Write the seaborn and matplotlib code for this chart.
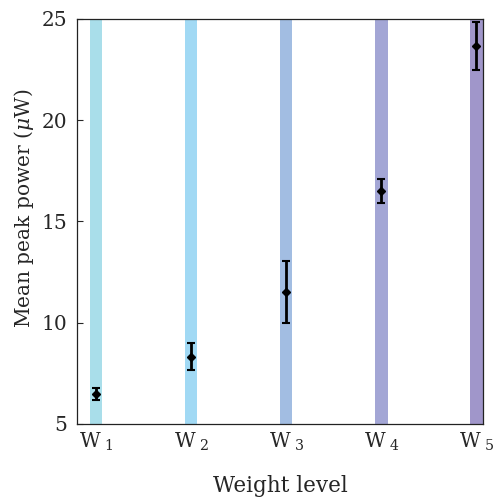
import matplotlib
matplotlib.use("Agg")
import matplotlib.pyplot as plt
import seaborn as sns
import pandas as pd

# Data
levels = ["W1", "W2", "W3", "W4", "W5"]
tick_labels = ["W$_{\\ 1}$", "W$_{\\ 2}$", "W$_{\\ 3}$", "W$_{\\ 4}$", "W$_{\\ 5}$"]
mean_power = [6.48, 8.31, 11.52, 16.5, 23.67]
power_err = [0.3, 0.67, 1.53, 0.6, 1.2]
band_top = [25, 25, 25, 25, 25]
band_colors = ["#a9deea", "#a1d9f4", "#a2bde2", "#a3a6d5", "#a096ca"]

dataframe = pd.DataFrame({"level": levels, "power": mean_power, "err": power_err, "top": band_top})

sns.set_style("ticks")
plt.rcParams["font.family"] = ["DejaVu Serif"]
plt.rcParams["mathtext.fontset"] = "dejavuserif"

f = plt.figure(figsize=(4.93, 4.98), dpi=100)
ax = f.add_axes([0.156, 0.149, 0.824, 0.813])

# Background bands
sns.barplot(data=dataframe, x="level", y="top", hue="level", palette=band_colors,
            width=0.13, saturation=1, legend=False, ax=ax, edgecolor="none")

# Mean with error bars
ax.errorbar(range(len(levels)), dataframe["power"], yerr=dataframe["err"], fmt="D",
            color="black", markersize=4.5, elinewidth=2, capsize=3, capthick=1.5)

ax.set_ylim(5, 25)
ax.set_xlim(-0.2, 4.07)
ax.set_yticks([5, 10, 15, 20, 25])
ax.set_xticks(range(len(levels)))
ax.set_xticklabels(tick_labels, fontsize=15.5)
ax.tick_params(direction="in", labelsize=14.5, length=4, width=0.8, top=False, right=False)
ax.tick_params(axis="x", pad=5)
ax.tick_params(axis="y", pad=7)
for spine in ax.spines.values():
    spine.set_visible(True)
    spine.set_linewidth(0.9)
    spine.set_color("#222222")
ax.set_xlabel("Weight level", fontsize=15.5, labelpad=16)
ax.set_ylabel("Mean peak power ($\\mu$W)", fontsize=14.5)
ax.yaxis.set_label_coords(-0.1, 0.532)

plt.savefig("out.png", dpi=100)
